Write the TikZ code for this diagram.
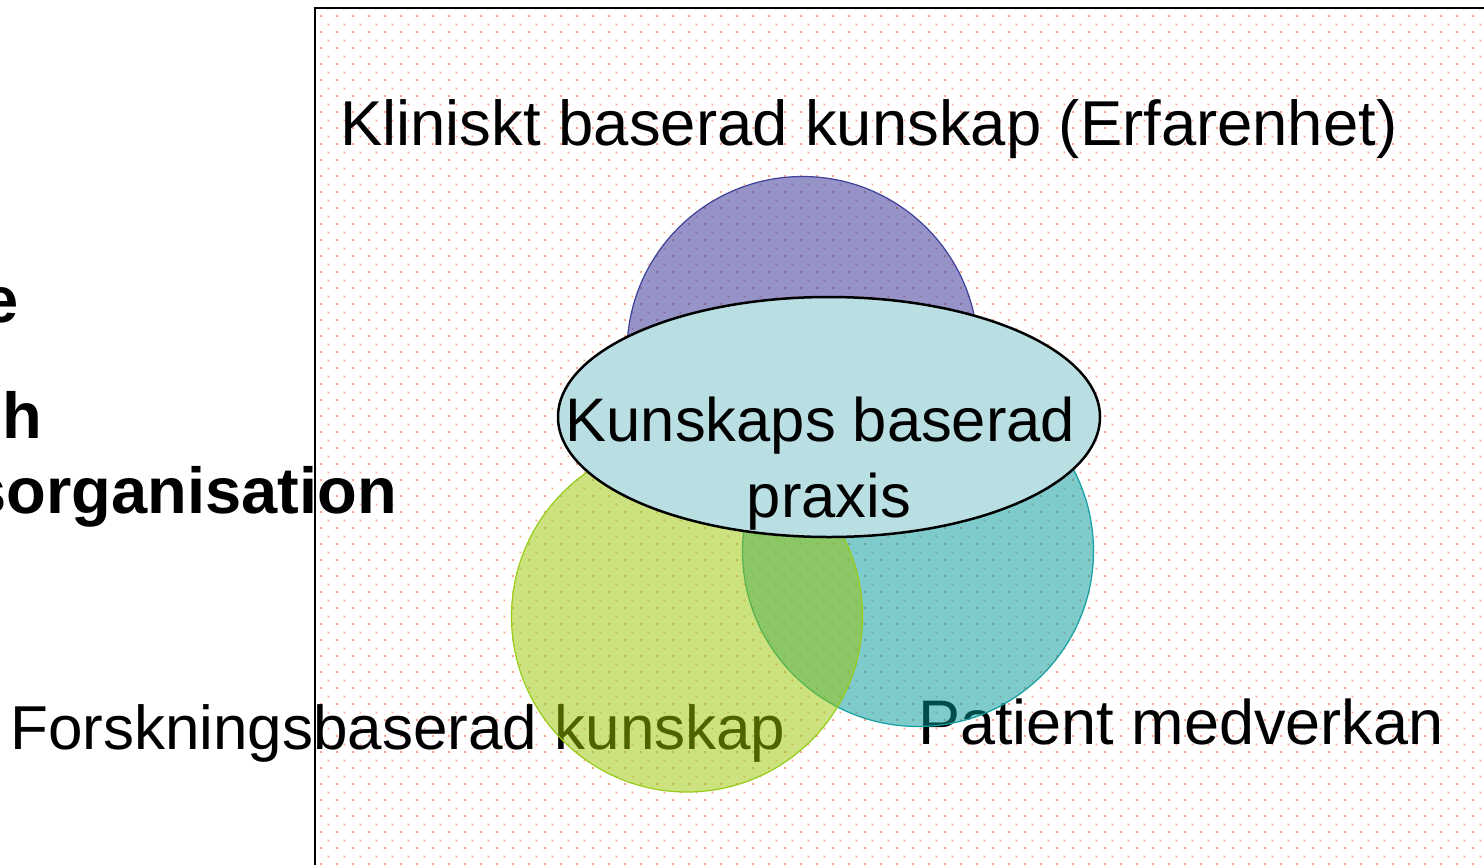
\documentclass[tikz,border=0pt]{standalone}
\usepackage{fontspec}
\setmainfont{Liberation Sans}
\usetikzlibrary{patterns,shapes.geometric}
\usepackage{xcolor}

\definecolor{prick}{HTML}{F6AA8C}
\definecolor{lila}{HTML}{2D2991}
\definecolor{lilakant}{HTML}{40409A}
\definecolor{gron}{HTML}{98C600}
\definecolor{gronkant}{HTML}{99CC1A}
\definecolor{turkos}{HTML}{009696}
\definecolor{turkoskant}{HTML}{14A0A0}
\definecolor{ovalfarg}{HTML}{B9DFE2}

% prickmonster for bakgrunden
\pgfdeclarepatternformonly{prickar}{\pgfqpoint{0pt}{0pt}}{\pgfqpoint{16pt}{16pt}}{\pgfqpoint{16pt}{16pt}}{%
  \pgfpathrectangle{\pgfqpoint{0pt}{0pt}}{\pgfqpoint{2pt}{2pt}}%
  \pgfpathrectangle{\pgfqpoint{8pt}{8pt}}{\pgfqpoint{2pt}{2pt}}%
  \pgfusepath{fill}}

\begin{document}
\begin{tikzpicture}[
  x=1pt, y=-1pt,
  cirkel/.style={circle, minimum size=351pt, inner sep=0pt, line width=1.2pt, fill opacity=0.5},
  ovalform/.style={ellipse, draw, line width=2.5pt, fill=ovalfarg, minimum width=542pt, minimum height=240pt, inner sep=0pt},
  rubrik/.style={font=\fontsize{62}{76}\selectfont, inner sep=0pt, anchor=base west},
  fet/.style={font=\fontsize{65}{78}\selectfont\bfseries, inner sep=0pt, anchor=base east}
]
\useasboundingbox (0,0) rectangle (1484,865);
\fill[white] (0,0) rectangle (1484,865);
\clip (0,0) rectangle (1484,865);
\draw[line width=2pt, pattern=prickar, pattern color=prick] (315,8) rectangle (1500,880);
% avskuren rubrik till vanster
\node[fet] (e) at (19,322) {e};
\node[fet] (och) at (42,438) {ch};
\node[fet] (org) at (397,513) {sorganisation};
% de tre kunskapskallorna
\node[rubrik, font=\fontsize{63.4}{76}\selectfont] (klinisk) at (340,145) {Kliniskt baserad kunskap (Erfarenhet)};
\node[rubrik] (forskning) at (10,749) {Forskningsbaserad kunskap};
\node[rubrik, font=\fontsize{63}{76}\selectfont] (patient) at (918,744) {Patient medverkan};
\node[cirkel, fill=lila, draw=lilakant] (klin) at (802.5,352) {};
\node[cirkel, fill=turkos, draw=turkoskant] (pat) at (918,551) {};
\node[cirkel, fill=gron, draw=gronkant] (forsk) at (687,616.5) {};
% mitten
\node[ovalform] (praxis) at (829,417) {};
\node[font=\fontsize{61.5}{76}\selectfont, align=center, inner sep=0pt] (praxistext) at (829,464) {Kunskaps baserad\hphantom{\ }\\praxis};
\end{tikzpicture}
\end{document}
